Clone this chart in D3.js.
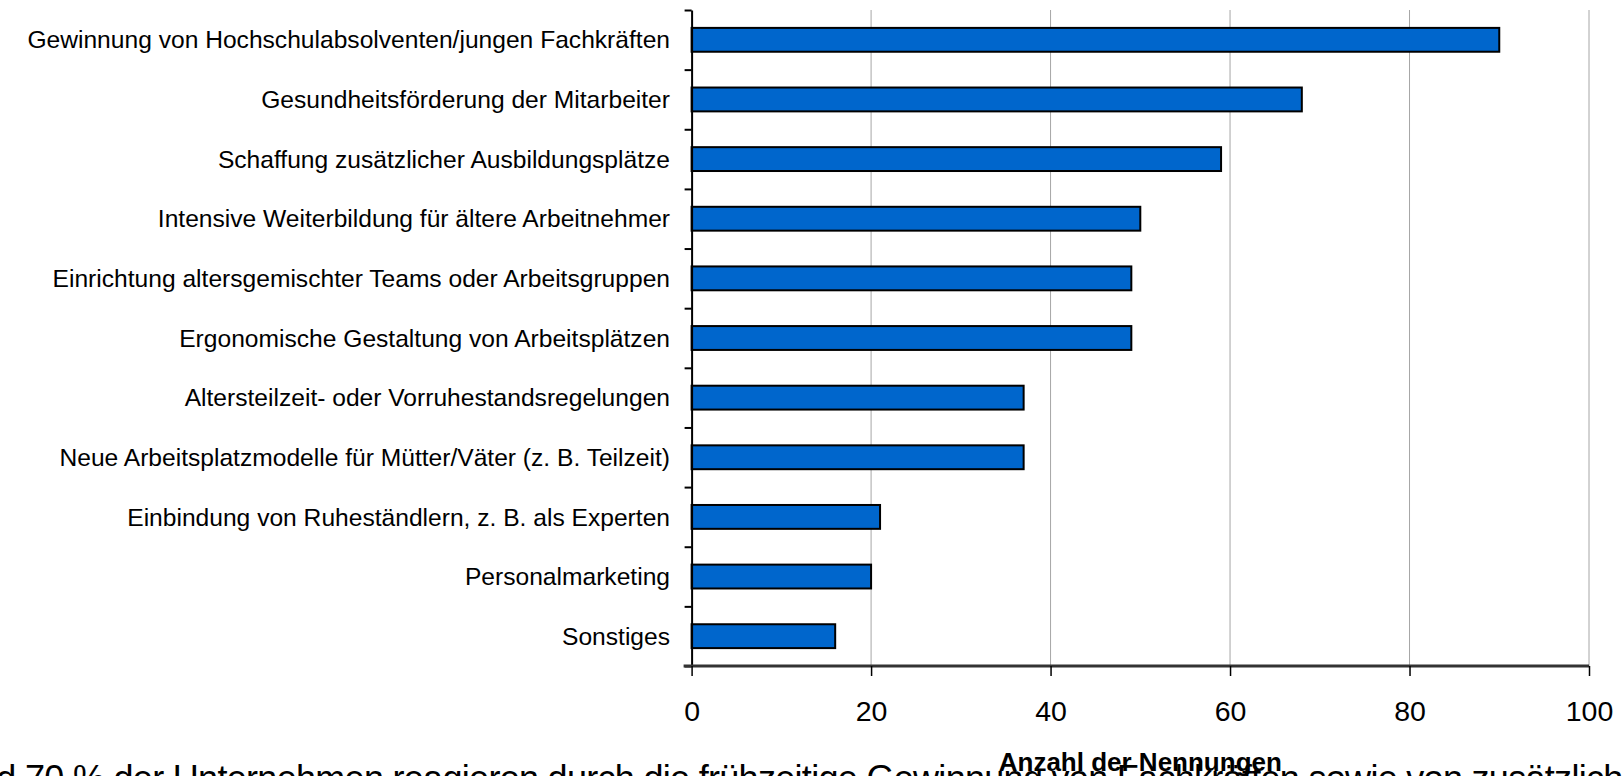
<!DOCTYPE html>
<html>
<head>
<meta charset="utf-8">
<script src="https://cdn.jsdelivr.net/npm/d3@7"></script>
<style>
  body { margin: 0; background: #fff; overflow: hidden; }
  text { font-family: 'Liberation Sans', Arial, sans-serif; }
</style>
</head>
<body>
<div class="canvas"></div>
<script>
// data
const categories = [
	'Gewinnung von Hochschulabsolventen/jungen Fachkräften',
	'Gesundheitsförderung der Mitarbeiter',
	'Schaffung zusätzlicher Ausbildungsplätze',
	'Intensive Weiterbildung für ältere Arbeitnehmer',
	'Einrichtung altersgemischter Teams oder Arbeitsgruppen',
	'Ergonomische Gestaltung von Arbeitsplätzen',
	'Altersteilzeit- oder Vorruhestandsregelungen',
	'Neue Arbeitsplatzmodelle für Mütter/Väter (z. B. Teilzeit)',
	'Einbindung von Ruheständlern, z. B. als Experten',
	'Personalmarketing',
	'Sonstiges'
];
const values = [90, 68, 59, 50, 49, 49, 37, 37, 21, 20, 16];
const xTicks = [0, 20, 40, 60, 80, 100];
const axisTitle = 'Anzahl der Nennungen';
const footText = 'Rund 70 % der Unternehmen reagieren durch die frühzeitige Gewinnung von Fachkräften sowie von zusätzlichen Ausbildungsplätzen';

const data = categories.map((name, i) => ({ name, value: values[i] }));

const width = 1623;
const height = 776;

const svg = d3.select('.canvas')
	.append('svg')
	.attr('width', width)
	.attr('height', height)

const margin = { top: 10, right: 34, bottom: 110, left: 691.6 };
const graphWidth = width - margin.left - margin.right;
const graphHeight = height - margin.top - margin.bottom;

const graph = svg.append('g')
	.attr('transform', `translate(${margin.left}, ${margin.top})`);

// scales
const x = d3.scaleLinear()
	.domain([0, 100])
	.range([0, graphWidth]);

const y = d3.scaleBand()
	.domain(categories)
	.range([0, graphHeight])
	.paddingInner(0.6)
	.paddingOuter(0.3);

// category boundaries for the y ticks
const yEdge = d3.scaleLinear()
	.domain([0, categories.length])
	.range([0, graphHeight]);

// vertical grid lines
graph.append('g')
	.selectAll('line')
	.data(xTicks.slice(1))
	.enter()
	.append('line')
	.attr('x1', d => x(d))
	.attr('x2', d => x(d))
	.attr('y1', 0)
	.attr('y2', graphHeight)
	.attr('stroke', '#a6a6a6')
	.attr('stroke-width', 1);

// bars
graph.selectAll('rect.bar')
	.data(data)
	.enter()
	.append('rect')
	.attr('class', 'bar')
	.attr('x', 0)
	.attr('y', d => y(d.name))
	.attr('width', d => x(d.value))
	.attr('height', y.bandwidth())
	.attr('fill', '#0066cc')
	.attr('stroke', '#000')
	.attr('stroke-width', 2);

// y axis: ticks between categories
const yAxisGroup = graph.append('g');
yAxisGroup.call(d3.axisLeft(yEdge)
	.tickValues(d3.range(categories.length + 1))
	.tickFormat('')
	.tickSize(7)
	.tickSizeOuter(0));
yAxisGroup.select('.domain').attr('stroke', '#000').attr('stroke-width', 2);
yAxisGroup.selectAll('.tick line').attr('stroke', '#000').attr('stroke-width', 2);

// category labels
graph.append('g')
	.selectAll('text')
	.data(data)
	.enter()
	.append('text')
	.attr('x', -21.6)
	.attr('y', d => y(d.name) + y.bandwidth() / 2)
	.attr('dy', '0.35em')
	.attr('text-anchor', 'end')
	.attr('font-size', '24.6px')
	.attr('fill', '#000')
	.text(d => d.name);

// x axis
const xAxisGroup = graph.append('g')
	.attr('transform', `translate(0, ${graphHeight})`);
xAxisGroup.call(d3.axisBottom(x)
	.tickValues(xTicks)
	.tickSize(10)
	.tickSizeOuter(0)
	.tickPadding(25));
xAxisGroup.select('.domain')
	.attr('d', `M-8,0H${graphWidth}`)
	.attr('stroke', '#333')
	.attr('stroke-width', 3);
xAxisGroup.selectAll('.tick line').attr('stroke', '#000').attr('stroke-width', 1.5);
xAxisGroup.selectAll('text')
	.attr('font-size', '28.5px')
	.attr('font-family', "'Liberation Sans', Arial, sans-serif")
	.attr('fill', '#000');

// page text running below the chart (cut off by the window)
const foot = svg.append('text')
	.attr('y', 791)
	.attr('font-size', '36px')
	.attr('letter-spacing', '-0.7px')
	.attr('fill', '#000')
	.text(footText);
const prefix = foot.node().getSubStringLength(0, 5);
foot.attr('x', 25 - prefix);

// axis title
svg.append('text')
	.attr('x', margin.left + graphWidth / 2)
	.attr('y', 771)
	.attr('text-anchor', 'middle')
	.attr('font-size', '26px')
	.attr('font-weight', 'bold')
	.attr('fill', '#000')
	.text(axisTitle);
</script>
</body>
</html>
